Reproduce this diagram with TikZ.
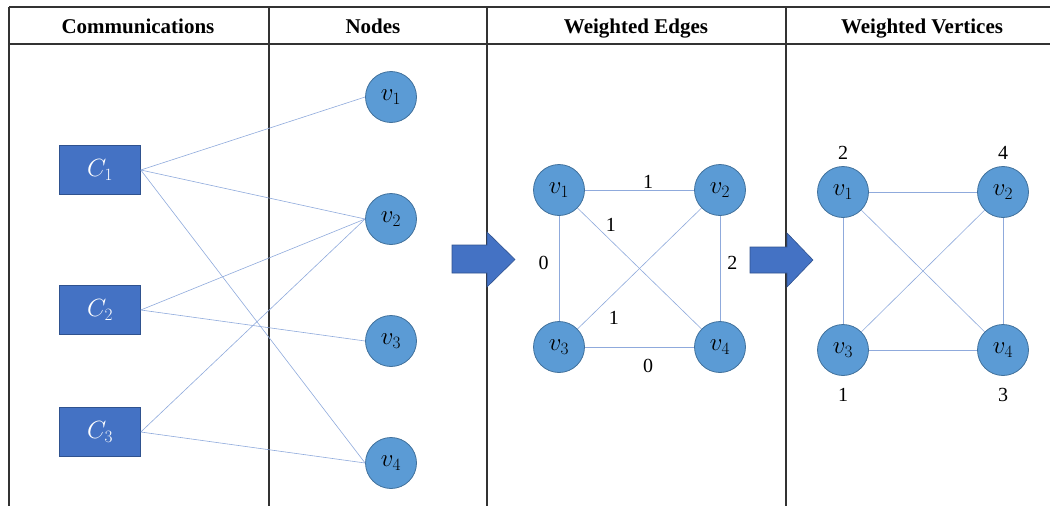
\documentclass[tikz,border=0pt]{standalone}
\usepackage{fontspec}
\setmainfont{Liberation Serif}
\usetikzlibrary{positioning}
\definecolor{comm fill color}{HTML}{4472C4}
\definecolor{comm border color}{HTML}{2F528F}
\definecolor{vertex fill color}{HTML}{5B9BD5}
\definecolor{vertex border color}{HTML}{41719C}
\definecolor{link color}{HTML}{8FAADC}
\colorlet{table line color}{black!80}
\tikzset{
    x={1pt},
    y={-1pt},
    table line/.style={
        draw=table line color,
        line width={1.2pt},
    },
    column title/.style={
        font={\bfseries\fontsize{21}{24}\selectfont},
        inner sep=0pt,
        anchor=base,
    },
    communication/.style={
        rectangle, fill=comm fill color, draw=comm border color,
        line width={0.6pt},
        minimum width={81},
        minimum height={49},
        inner sep=0pt,
        text=white,
        font={\fontsize{23}{25}\selectfont},
    },
    vertex/.style={
        circle, fill=vertex fill color, draw=vertex border color,
        line width={0.8pt},
        minimum size={51},
        inner sep=0pt,
        font={\fontsize{24}{26}\selectfont},
    },
    link/.style={
        draw=link color,
        line width={0.6pt},
    },
    weight/.style={
        font={\fontsize{20}{22}\selectfont},
        inner sep=0pt,
    },
    block arrow/.style={
        fill=comm fill color, draw=comm border color,
        line width={0.6pt},
    },
}

\begin{document}
\begin{tikzpicture}
\useasboundingbox (0,0) rectangle (1050,506);
% table
\path[table line] (9,7) -- (1050,7);
\path[table line] (9,44) -- (1050,44);
\path[table line] (9,7) -- (9,506);
\path[table line] (269,7) -- (269,506);
\path[table line] (487,7) -- (487,506);
\path[table line] (786,7) -- (786,506);
\node[column title] (comm title) at (138,33) {Communications};
\node[column title] (node title) at (373,33) {Nodes};
\node[column title] (edge title) at (636,33) {Weighted Edges};
\node[column title] (vert title) at (922,33) {Weighted Vertices};
% communications
\node[communication] (c1) at (100,170) {$C_1$};
\node[communication] (c2) at (100,310) {$C_2$};
\node[communication] (c3) at (100,432) {$C_3$};
% nodes
\node[vertex] (v1) at (391,97) {$v_1$};
\node[vertex] (v2) at (391,219) {$v_2$};
\node[vertex] (v3) at (391,341) {$v_3$};
\node[vertex] (v4) at (391,463) {$v_4$};
\path[link] (c1.east) -- (v1.west);
\path[link] (c1.east) -- (v2.west);
\path[link] (c1.east) -- (v4.west);
\path[link] (c2.east) -- (v2.west);
\path[link] (c2.east) -- (v3.west);
\path[link] (c3.east) -- (v2.west);
\path[link] (c3.east) -- (v4.west);
% arrows
\path[block arrow] (452,245) -- (487,245) -- (487,232) -- (515,259.5) -- (487,287) -- (487,273) -- (452,273) -- cycle;
\path[block arrow] (750,247) -- (787,247) -- (787,233) -- (813,260) -- (787,287) -- (787,273) -- (750,273) -- cycle;
% weighted edges
\node[vertex] (e1) at (559,190) {$v_1$};
\node[vertex] (e2) at (720,190) {$v_2$};
\node[vertex] (e3) at (559,347) {$v_3$};
\node[vertex] (e4) at (720,347) {$v_4$};
\path[link] (e1) -- node[weight, above=1pt, pos=0.58] (w12) {1} (e2);
\path[link] (e1) -- node[weight, left=10pt, pos=0.45] (w13) {0} (e3);
\path[link] (e2) -- node[weight, right=7pt, pos=0.45] (w24) {2} (e4);
\path[link] (e3) -- node[weight, below=12pt, pos=0.58] (w34) {0} (e4);
\path[link] (e1) -- node[weight, above right=3pt, pos=0.21] (w14) {1} (e4);
\path[link] (e2) -- node[weight, below right=9pt, pos=0.8] (w23) {1} (e3);
% weighted vertices
\node[vertex] (u1) at (843,192) {$v_1$};
\node[vertex] (u2) at (1003,192) {$v_2$};
\node[vertex] (u3) at (843,350) {$v_3$};
\node[vertex] (u4) at (1003,350) {$v_4$};
\path[link] (u1) -- (u2);
\path[link] (u1) -- (u3);
\path[link] (u2) -- (u4);
\path[link] (u3) -- (u4);
\path[link] (u1) -- (u4);
\path[link] (u2) -- (u3);
\node[weight, above=6pt of u1] (u1 weight) {2};
\node[weight, above=6pt of u2] (u2 weight) {4};
\node[weight, below=12pt of u3] (u3 weight) {1};
\node[weight, below=12pt of u4] (u4 weight) {3};
\end{tikzpicture}
\end{document}
